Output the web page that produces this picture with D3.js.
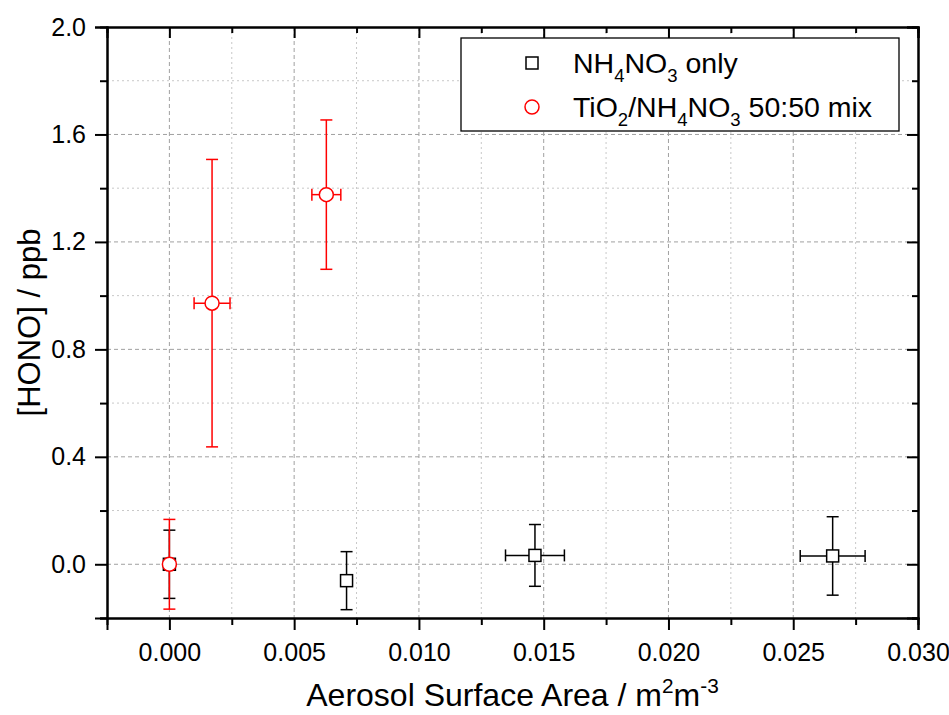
<!DOCTYPE html>
<html>
<head>
<meta charset="utf-8">
<script src="https://cdn.jsdelivr.net/npm/d3@7"></script>
<style>
  body { margin: 0; background: #fff; }
  text { font-family: Arial, "Liberation Sans", sans-serif; }
</style>
</head>
<body>
<div id="chart"></div>
<script>
// data
var nh4X = [0.0, 0.0071, 0.01465, 0.02658];
var nh4Y = [0.0, -0.061, 0.033, 0.031];
var nh4Yerr = [0.127, 0.108, 0.115, 0.146];
var nh4Xerr = [0, 0, 0.00118, 0.0013];

var mixX = [0.0, 0.00171, 0.00629];
var mixY = [0.0, 0.972, 1.376];
var mixYerr = [0.167, 0.535, 0.278];
var mixXerr = [0, 0.00072, 0.00058];

var xTicks = [0.0, 0.005, 0.01, 0.015, 0.02, 0.025, 0.03];
var yTicks = [0.0, 0.4, 0.8, 1.2, 1.6, 2.0];

// set the dimensions and margins of the graph
var margin = { top: 27, right: 31, bottom: 97, left: 107 },
  width = 949 - margin.left - margin.right,
  height = 715 - margin.top - margin.bottom;

var svg = d3
  .select("#chart")
  .append("svg")
  .attr("width", 949)
  .attr("height", 715)
  .append("g")
  .attr("transform", "translate(" + margin.left + "," + margin.top + ")");

var x = d3.scaleLinear().domain([-0.0025, 0.03]).range([0, width]);
var y = d3.scaleLinear().domain([-0.2, 2.0]).range([height, 0]);

// minor positions
var xMinor = [0.0025, 0.0075, 0.0125, 0.0175, 0.0225, 0.0275];
var yMinor = [-0.2, 0.2, 0.6, 1.0, 1.4, 1.8];

// grid
var grid = svg.append("g");
grid
  .selectAll(".gxm")
  .data(xMinor)
  .enter()
  .append("line")
  .attr("x1", (d) => x(d))
  .attr("x2", (d) => x(d))
  .attr("y1", 0)
  .attr("y2", height)
  .attr("stroke", "#c8c8c8")
  .attr("stroke-width", 1)
  .attr("stroke-dasharray", "2,3");
grid
  .selectAll(".gxM")
  .data(xTicks.filter((d) => d < 0.03))
  .enter()
  .append("line")
  .attr("x1", (d) => x(d))
  .attr("x2", (d) => x(d))
  .attr("y1", 0)
  .attr("y2", height)
  .attr("stroke", "#a0a0a0")
  .attr("stroke-width", 1)
  .attr("stroke-dasharray", "4,3");
grid
  .selectAll(".gym")
  .data(yMinor.filter((d) => d > -0.2))
  .enter()
  .append("line")
  .attr("x1", 0)
  .attr("x2", width)
  .attr("y1", (d) => y(d))
  .attr("y2", (d) => y(d))
  .attr("stroke", "#c8c8c8")
  .attr("stroke-width", 1)
  .attr("stroke-dasharray", "2,3");
grid
  .selectAll(".gyM")
  .data(yTicks.filter((d) => d < 2.0))
  .enter()
  .append("line")
  .attr("x1", 0)
  .attr("x2", width)
  .attr("y1", (d) => y(d))
  .attr("y2", (d) => y(d))
  .attr("stroke", "#a0a0a0")
  .attr("stroke-width", 1)
  .attr("stroke-dasharray", "4,3");

// axes
function styleAxis(g) {
  g.select(".domain").attr("stroke-width", 2);
  g.selectAll(".tick line").attr("stroke-width", 2);
  g.selectAll("text").style("font-size", "25px").attr("fill", "#000");
}
var xFmt = d3.format(".3f");
var yFmt = d3.format(".1f");

svg.append("g")
  .attr("transform", "translate(0," + height + ")")
  .call(d3.axisBottom(x).tickValues(xTicks).tickFormat(xFmt).tickSizeOuter(0).tickSize(12).tickPadding(13))
  .call(styleAxis);
svg.append("g")
  .attr("transform", "translate(0," + height + ")")
  .call(d3.axisBottom(x).tickValues(xMinor).tickFormat("").tickSizeOuter(0).tickSize(7))
  .call(styleAxis);
svg.append("g")
  .call(d3.axisLeft(y).tickValues(yTicks).tickFormat(yFmt).tickSizeOuter(0).tickSize(12).tickPadding(9))
  .call(styleAxis);
svg.append("g")
  .call(d3.axisLeft(y).tickValues(yMinor).tickFormat("").tickSizeOuter(0).tickSize(7))
  .call(styleAxis);
// top and right with inward ticks
svg.append("g")
  .call(d3.axisBottom(x).tickValues(xTicks).tickFormat("").tickSizeOuter(0).tickSize(11))
  .call(styleAxis);
svg.append("g")
  .call(d3.axisBottom(x).tickValues(xMinor).tickFormat("").tickSizeOuter(0).tickSize(6))
  .call(styleAxis);
svg.append("g")
  .attr("transform", "translate(" + width + ",0)")
  .call(d3.axisLeft(y).tickValues(yTicks).tickFormat("").tickSizeOuter(0).tickSize(11))
  .call(styleAxis);
svg.append("g")
  .attr("transform", "translate(" + width + ",0)")
  .call(d3.axisLeft(y).tickValues(yMinor).tickFormat("").tickSizeOuter(0).tickSize(6))
  .call(styleAxis);

// error bars + markers
function drawSeries(xs, ys, xe, ye, color, shape) {
  var data = xs.map((d, i) => ({ x: d, y: ys[i], xe: xe[i], ye: ye[i] }));
  var g = svg.append("g");
  var cap = 6;
  data.forEach(function (d) {
    var cx = x(d.x), cy = y(d.y);
    g.append("line").attr("x1", cx).attr("x2", cx).attr("y1", y(d.y + d.ye)).attr("y2", y(d.y - d.ye))
      .attr("stroke", color).attr("stroke-width", 1.5);
    g.append("line").attr("x1", cx - cap).attr("x2", cx + cap).attr("y1", y(d.y + d.ye)).attr("y2", y(d.y + d.ye))
      .attr("stroke", color).attr("stroke-width", 1.5);
    g.append("line").attr("x1", cx - cap).attr("x2", cx + cap).attr("y1", y(d.y - d.ye)).attr("y2", y(d.y - d.ye))
      .attr("stroke", color).attr("stroke-width", 1.5);
    if (d.xe > 0) {
      g.append("line").attr("x1", x(d.x - d.xe)).attr("x2", x(d.x + d.xe)).attr("y1", cy).attr("y2", cy)
        .attr("stroke", color).attr("stroke-width", 1.5);
      g.append("line").attr("x1", x(d.x - d.xe)).attr("x2", x(d.x - d.xe)).attr("y1", cy - cap).attr("y2", cy + cap)
        .attr("stroke", color).attr("stroke-width", 1.5);
      g.append("line").attr("x1", x(d.x + d.xe)).attr("x2", x(d.x + d.xe)).attr("y1", cy - cap).attr("y2", cy + cap)
        .attr("stroke", color).attr("stroke-width", 1.5);
    }
  });
  data.forEach(function (d) {
    if (shape == "square") {
      g.append("rect").attr("x", x(d.x) - 6).attr("y", y(d.y) - 6).attr("width", 12).attr("height", 12)
        .attr("fill", "#fff").attr("stroke", color).attr("stroke-width", 1.5);
    } else {
      g.append("circle").attr("cx", x(d.x)).attr("cy", y(d.y)).attr("r", 7)
        .attr("fill", "#fff").attr("stroke", color).attr("stroke-width", 1.5);
    }
  });
}
drawSeries(nh4X, nh4Y, nh4Xerr, nh4Yerr, "#000", "square");
drawSeries(mixX, mixY, mixXerr, mixYerr, "#ff0000", "circle");

// legend
var leg = svg.append("g").attr("transform", "translate(" + (461 - margin.left) + "," + (38 - margin.top) + ")");
leg.append("rect").attr("width", 438).attr("height", 93).attr("fill", "#fff").attr("stroke", "#000").attr("stroke-width", 1.3);
leg.append("rect").attr("x", 71 - 6).attr("y", 25 - 6).attr("width", 12).attr("height", 12)
  .attr("fill", "#fff").attr("stroke", "#000").attr("stroke-width", 1.5);
leg.append("circle").attr("cx", 71).attr("cy", 69).attr("r", 7)
  .attr("fill", "#fff").attr("stroke", "#ff0000").attr("stroke-width", 1.5);

function richText(g, parts, px, py, size) {
  var t = g.append("text").attr("x", px).attr("y", py).style("font-size", size + "px");
  var shift = 0;
  parts.forEach(function (p) {
    var s = p[1];
    var target = s == "sub" ? size * 0.3 : s == "sup" ? -size * 0.4 : 0;
    t.append("tspan")
      .attr("dy", target - shift)
      .style("font-size", (s ? size * 0.65 : size) + "px")
      .text(p[0]);
    shift = target;
  });
  return t;
}
richText(leg, [["NH"], ["4", "sub"], ["NO"], ["3", "sub"], [" only"]], 112, 35, 28.5);
richText(leg, [["TiO"], ["2", "sub"], ["/NH"], ["4", "sub"], ["NO"], ["3", "sub"], [" 50:50 mix"]], 112, 79, 28.5);

// axis titles
var xt = richText(svg, [["Aerosol Surface Area / m"], ["2", "sup"], ["m"], ["-3", "sup"]], width / 2, height + 88, 32);
xt.attr("text-anchor", "middle");
svg.append("text")
  .attr("transform", "translate(" + (40 - margin.left) + "," + height / 2 + ") rotate(-90)")
  .attr("text-anchor", "middle")
  .style("font-size", "31px")
  .text("[HONO] / ppb");
</script>
</body>
</html>
